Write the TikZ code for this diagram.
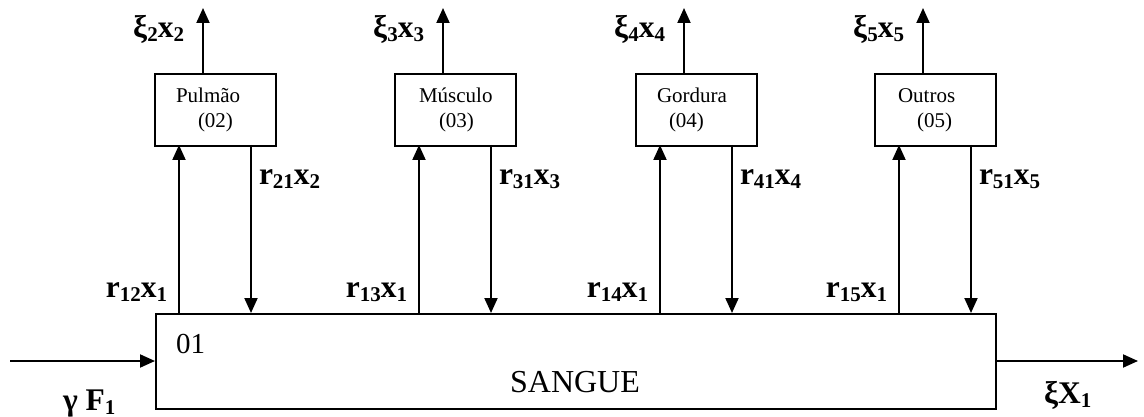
\documentclass[tikz,border=0pt]{standalone}
\usepackage{fontspec}
\setmainfont{Liberation Serif}
\usetikzlibrary{arrows.meta}
\newcommand\sbx[1]{\raisebox{-4pt}{\fontsize{21}{21}\selectfont #1}}
\begin{document}
\begin{tikzpicture}[x=1pt,y=-1pt,
  line width=2pt,
  arr/.style={-{Triangle[length=15pt,width=13pt]}},
  organ/.style={draw,line width=2pt,minimum width=121pt,minimum height=72pt,anchor=north west,inner sep=0pt},
  lab/.style={font=\fontsize{31.5}{31.5}\selectfont\bfseries,inner sep=0pt},
  btxt/.style={font=\fontsize{21}{21}\selectfont,inner sep=0pt,anchor=base west}]
\useasboundingbox (0,0) rectangle (1144,417);

% blood compartment
\node[draw,line width=2pt,minimum width=840pt,minimum height=95pt,anchor=north west,inner sep=0pt] (s) at (155,313) {};
\node[font=\fontsize{29}{29}\selectfont,inner sep=0pt,anchor=base west] (n01) at (175,353) {01};
\node[font=\fontsize{32}{32}\selectfont,inner sep=0pt,anchor=base] (sang) at (575,392) {SANGUE};

% organ boxes
\foreach \i/\L in {2/154,3/394,4/635,5/874}{
  \node[organ] (o\i) at (\L,73) {};
  \coordinate (up\i) at (\L+49,8);
  \coordinate (in\i) at (\L+25,145);
  \coordinate (rt\i) at (\L+97,145);
  \draw[arr] (o\i.north -| up\i) -- (up\i);
  \draw[arr] (in\i |- s.north) -- (in\i);
  \draw[arr] (rt\i) -- (rt\i |- s.north);
  \node[lab,anchor=base east] (xi\i) at (\L+31,38) {ξ\sbx{\i}x\sbx{\i}};
  \node[lab,anchor=base east] (ra\i) at (\L+14,297) {r\sbx{1\i}x\sbx{1}};
  \node[lab,anchor=base west] (rb\i) at (\L+104,185) {r\sbx{\i1}x\sbx{\i}};
}

\node[btxt] (t2a) at (175,103) {Pulmão};
\node[btxt] (t2b) at (197,128) {(02)};
\node[btxt] (t3a) at (418,103) {Músculo};
\node[btxt] (t3b) at (438,128) {(03)};
\node[btxt] (t4a) at (656,103) {Gordura};
\node[btxt] (t4b) at (668,128) {(04)};
\node[btxt] (t5a) at (897,103) {Outros};
\node[btxt] (t5b) at (916,128) {(05)};

% input / output
\coordinate (inL) at (10,361);
\coordinate (outR) at (1138,361);
\draw[arr] (inL) -- (inL -| s.west);
\draw[arr] (s.east |- outR) -- (outR);
\node[lab,anchor=base west] (gF) at (62,410) {γ F\sbx{1}};
\node[lab,anchor=base west] (xX) at (1043,403) {ξX\sbx{1}};
\end{tikzpicture}
\end{document}
